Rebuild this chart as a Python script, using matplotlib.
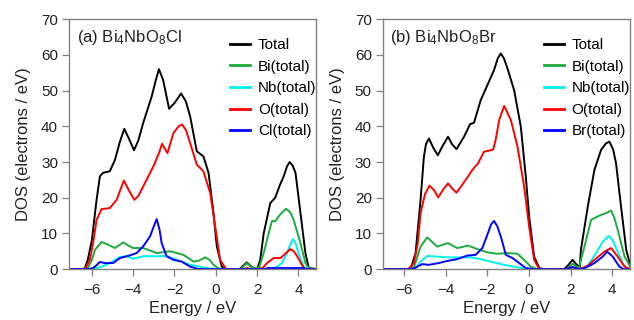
import numpy as np
import matplotlib.pyplot as plt

plt.rcParams['font.family'] = ['Liberation Sans', 'DejaVu Sans']
plt.rcParams['mathtext.default'] = 'regular'

# ---- panel (a) Bi4NbO8Cl ----
a_tot_e = [-7.1, -6.5, -6.34, -6.2, -6.0, -5.77, -5.61, -5.45, -5.13, -4.88, -4.65, -4.43, -4.2, -3.96, -3.75,
           -3.51, -3.1, -2.9, -2.75, -2.55, -2.26, -2.0, -1.68, -1.45, -1.24, -0.92, -0.6, -0.35, -0.11, 0.05,
           0.29, 0.5, 1.15, 1.3, 1.5, 1.7, 1.85, 2.0, 2.15, 2.32, 2.64, 2.88, 3.1, 3.29, 3.45, 3.58, 3.72, 3.86,
           4.1, 4.34, 4.5, 4.9]
a_tot_d = [0, 0, 0.2, 2.5, 8, 19.4, 26, 27, 27.4, 30.6, 35.5, 39.3, 36.5, 33.3, 36, 41, 48.4, 53, 56, 53,
           44.9, 46.5, 49.2, 47, 42.8, 33, 31.6, 27, 15.7, 6.4, 0.7, 0, 0, 0.8, 1.9, 0.8, 0.1, 0, 2.5, 10,
           18.5, 20, 23.5, 26, 28.8, 30, 29, 27, 15.7, 4.5, 0.3, 0]

a_bi_e = [-7.1, -6.4, -6.18, -6.0, -5.85, -5.53, -5.2, -4.88, -4.48, -4.2, -4.0, -3.51, -2.86, -2.21, -1.57,
          -1.3, -1.08, -0.8, -0.51, -0.3, -0.11, 0.15, 0.4, 1.2, 1.5, 1.8, 2.1, 2.32, 2.56, 2.72, 2.88, 3.1,
          3.4, 3.6, 3.77, 4.1, 4.34, 4.5, 4.9]
a_bi_d = [0, 0, 0.5, 2.5, 5.4, 7.6, 6.8, 5.9, 7.5, 6.5, 5.9, 5.9, 4.5, 5.0, 4.0, 3.0, 2.1, 2.4, 3.3, 2.6,
          1.2, 0.2, 0, 0, 1.7, 0.2, 0.5, 4.5, 10, 13.5, 13.4, 15.2, 16.9, 16, 13.8, 7.3, 1.7, 0.2, 0]

a_nb_e = [-7.1, -6.0, -5.6, -5.13, -4.64, -4.32, -4.0, -3.51, -2.86, -2.38, -1.89, -1.24, -0.6, -0.2, 0.2,
          2.6, 2.8, 3.0, 3.2, 3.45, 3.6, 3.74, 3.87, 4.0, 4.26, 4.45, 4.9]
a_nb_d = [0, 0, 0.5, 1.7, 3.4, 3.6, 2.9, 3.6, 3.6, 3.7, 2.6, 1.2, 0.5, 0.1, 0,
          0, 0.3, 0.8, 1.7, 4.5, 6.8, 8.4, 7.2, 4.5, 0.7, 0, 0]

a_o_e = [-7.1, -6.4, -6.3, -6.1, -5.94, -5.77, -5.53, -5.13, -4.8, -4.6, -4.45, -4.2, -3.94, -3.75, -3.51,
         -3.02, -2.75, -2.6, -2.34, -2.05, -1.8, -1.63, -1.45, -1.24, -0.92, -0.6, -0.27, -0.03, 0.21, 0.5,
         1.3, 1.5, 1.7, 2.1, 2.3, 2.48, 2.8, 3.13, 3.4, 3.61, 3.78, 3.94, 4.26, 4.45, 4.9]
a_o_d = [0, 0, 0.3, 2.5, 7.3, 13.8, 16.8, 17.1, 19.4, 22.5, 24.8, 22, 19.4, 20.5, 23.2,
         28.8, 32.5, 35.1, 32.5, 38.1, 40, 40.5, 39, 35.3, 29.3, 27.4, 21.3, 12, 2.6, 0,
         0, 0.3, 0, 0, 0.5, 1.7, 3.1, 3.1, 4.5, 5.6, 5.0, 3.6, 0.3, 0, 0]

a_x_e = [-7.1, -6.3, -6.1, -5.94, -5.75, -5.61, -5.37, -4.96, -4.64, -4.24, -3.83, -3.51, -3.18, -3.0,
         -2.86, -2.72, -2.62, -2.38, -2.05, -1.65, -1.24, -0.9, -0.5, 2.4, 2.5, 4.2, 4.4, 4.9]
a_x_d = [0, 0, 0.1, 0.3, 1.2, 2.0, 1.7, 1.7, 3.1, 3.7, 4.5, 6.4, 9.2, 12, 14, 11, 7.3, 3.6, 2.6, 2.1, 0.7,
         0.1, 0, 0, 0.3, 0.3, 0, 0]

# ---- panel (b) Bi4NbO8Br ----
b_tot_e = [-7.1, -5.9, -5.69, -5.45, -5.21, -5.05, -4.95, -4.81, -4.6, -4.38, -4.15, -3.89, -3.7, -3.48,
           -3.12, -2.83, -2.64, -2.32, -2.0, -1.68, -1.5, -1.35, -1.2, -1.03, -0.71, -0.39, -0.15, 0.01, 0.25,
           0.5, 0.7, 1.7, 1.9, 2.1, 2.3, 2.45, 2.5, 2.83, 3.15, 3.47, 3.7, 3.87, 4.05, 4.19, 4.43, 4.68, 4.88]
b_tot_d = [0, 0, 0, 4.5, 19.4, 31.5, 35, 36.6, 34, 31.9, 34.5, 37.1, 35, 33.6,
           37.1, 40.6, 41, 47.3, 51.5, 55.7, 59, 60.4, 59, 56.2, 50.1, 39.9, 25.9, 14.7, 3.5,
           0.3, 0, 0, 1.2, 2.6, 1.2, 0.6, 5.4, 17.5, 27.8, 33.4, 35.2, 35.7, 33.5, 29.6, 17.5, 5.4, 1]

b_bi_e = [-7.1, -5.8, -5.53, -5.21, -4.89, -4.65, -4.41, -4.15, -3.89, -3.65, -3.44, -3.2, -2.93, -2.48,
          -2.0, -1.51, -1.03, -0.55, -0.23, 0.09, 0.4, 1.8, 2.1, 2.4, 2.67, 2.99, 3.39, 3.63, 3.95, 4.1, 4.27,
          4.6, 4.88]
b_bi_d = [0, 0, 0.5, 6.3, 8.9, 7.6, 6.3, 6.8, 7.3, 6.5, 5.9, 6.2, 6.6, 5.6,
          4.7, 4.3, 4.5, 4.3, 2.6, 0.7, 0, 0, 1.5, 0.3, 6.3, 13.8, 15, 15.5, 16.4, 14.5, 11,
          3.5, 0.6]

b_nb_e = [-7.1, -5.7, -5.45, -5.21, -4.89, -4.41, -3.93, -3.44, -2.8, -2.32, -1.84, -1.19, -0.55, -0.15,
          0.2, 2.5, 2.83, 3.23, 3.55, 3.84, 4.0, 4.19, 4.51, 4.7, 4.88]
b_nb_d = [0, 0, 0.3, 2.1, 3.7, 3.5, 3.3, 3.3, 3.3, 2.8, 2.1, 1.2, 0.5, 0.1,
          0, 0, 1.0, 4.5, 7.7, 9.3, 8.3, 5.9, 1.7, 0.2, 0]

b_o_e = [-7.1, -5.8, -5.53, -5.35, -5.21, -5.0, -4.78, -4.55, -4.36, -4.1, -3.89, -3.68, -3.48, -3.04,
         -2.72, -2.45, -2.16, -1.92, -1.72, -1.6, -1.43, -1.19, -0.87, -0.55, -0.23, 0.01, 0.25, 0.5,
         1.8, 2.1, 2.4, 2.8, 3.15, 3.63, 3.95, 4.27, 4.6, 4.88]
b_o_d = [0, 0, 1.7, 7, 15.7, 21, 23.4, 22, 20.1, 22.5, 24, 22.5, 21.4, 25,
         27.8, 29.6, 32.9, 33.2, 33.5, 36.2, 41.8, 45.7, 41.8, 34.3, 23.1, 11.9, 2.6, 0,
         0, 0.5, 0, 0.8, 2.6, 4.9, 5.9, 3.5, 0.7, 0]

b_x_e = [-7.1, -5.8, -5.53, -5.13, -4.81, -4.33, -3.93, -3.44, -2.96, -2.56, -2.24, -2.0, -1.82, -1.68,
         -1.52, -1.35, -1.11, -0.79, -0.47, -0.15, 0.2, 1.8, 2.1, 2.4, 2.7, 3.15, 3.55, 3.76, 4.03, 4.35,
         4.55, 4.88]
b_x_d = [0, 0, 0.2, 1.4, 1.2, 1.7, 2.3, 2.8, 3.8, 4.0, 5.9, 9.6, 12.5, 13.5,
         12, 9.1, 4.0, 3.1, 1.7, 0.3, 0, 0, 0.6, 0, 0.3, 1.7, 3.5, 4.9, 3.5, 0.7,
         0, 0]

colors = {'Total': 'black', 'Bi': '#1eaa3c', 'Nb': '#00f0f0', 'O': '#ff0000', 'X': '#0000ff'}

panels = [
    ('(a) Bi$_4$NbO$_8$Cl', 'Cl', (a_tot_e, a_tot_d), (a_bi_e, a_bi_d), (a_nb_e, a_nb_d),
     (a_o_e, a_o_d), (a_x_e, a_x_d), [0.109, 0.159, 0.39, 0.781], (-7.1, 4.87)),
    ('(b) Bi$_4$NbO$_8$Br', 'Br', (b_tot_e, b_tot_d), (b_bi_e, b_bi_d), (b_nb_e, b_nb_d),
     (b_o_e, b_o_d), (b_x_e, b_x_d), [0.604, 0.159, 0.39, 0.781], (-7.02, 4.87)),
]

fig = plt.figure(figsize=(6.34, 3.2), dpi=100)

for title, hal, tot, bi, nb, o, x, pos, xlim in panels:
    ax = fig.add_axes(pos)
    ax.plot(tot[0], tot[1], color=colors['Total'], lw=1.4, label='Total')
    ax.plot(bi[0], bi[1], color=colors['Bi'], lw=1.4, label='Bi(total)')
    ax.plot(nb[0], nb[1], color=colors['Nb'], lw=1.4, label='Nb(total)')
    ax.plot(o[0], o[1], color=colors['O'], lw=1.4, label='O(total)')
    ax.plot(x[0], x[1], color=colors['X'], lw=1.4, label=hal + '(total)')

    ax.set_xlim(*xlim)
    ax.set_ylim(0, 70)
    ax.set_xticks([-6, -4, -2, 0, 2, 4])
    ax.set_yticks(np.arange(0, 71, 10))
    for s in ax.spines.values():
        s.set_color('#808080')
        s.set_linewidth(1.0)
    ax.tick_params(axis='both', direction='out', length=5, width=0.9, color='#808080',
                   labelsize=11, labelcolor='#222222')
    ax.tick_params(axis='x', pad=5)
    ax.tick_params(axis='y', pad=3)
    ax.set_xlabel('Energy / eV', fontsize=12, labelpad=3, color='#222222')
    ax.set_ylabel('DOS (electrons / eV)', fontsize=12, labelpad=7, color='#222222')
    ax.text(0.03, 0.925, title, transform=ax.transAxes, fontsize=12, va='center', ha='left',
            color='#222222')
    leg = ax.legend(loc='upper right', bbox_to_anchor=(1.0, 0.925), frameon=False, fontsize=11,
                    handlelength=1.3, handletextpad=0.5, labelspacing=0.5, borderpad=0, borderaxespad=0)
    for line in leg.get_lines():
        line.set_linewidth(2.0)

fig.savefig('out.png', dpi=100)
